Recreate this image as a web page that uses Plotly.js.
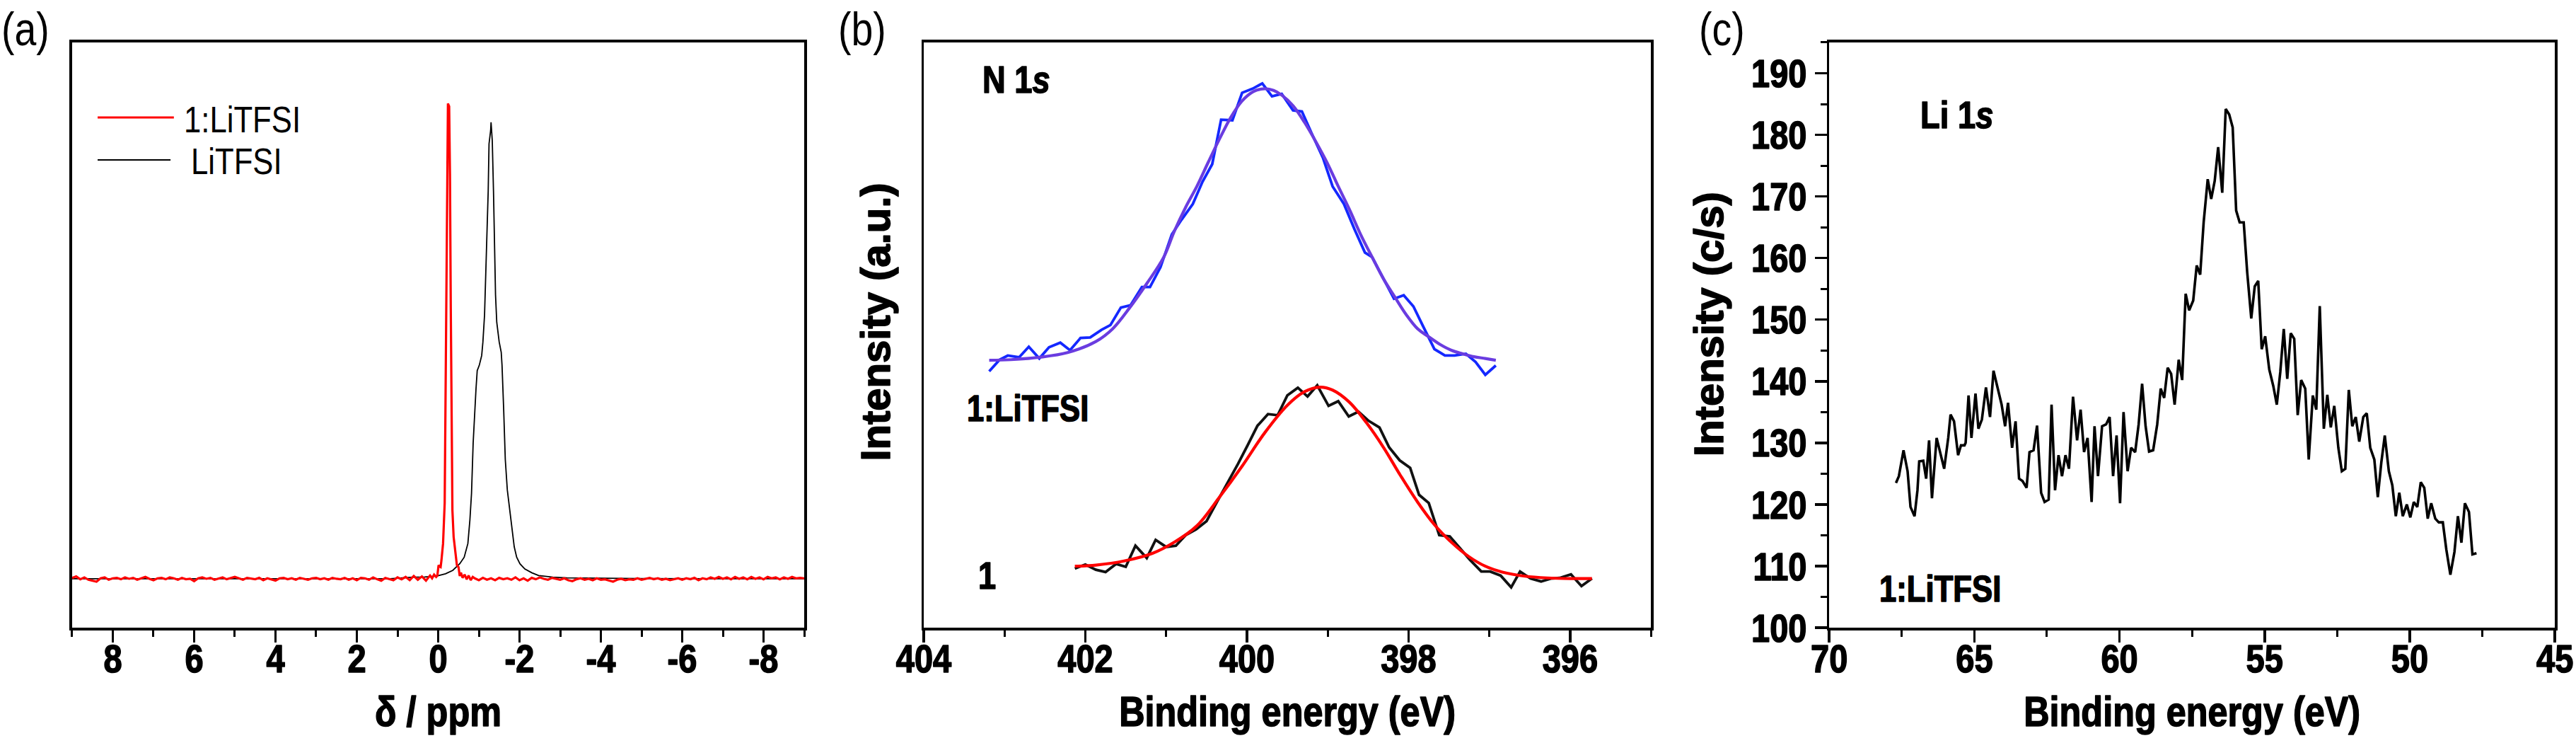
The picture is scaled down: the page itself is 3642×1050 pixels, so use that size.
<!DOCTYPE html>
<html>
<head>
<meta charset="utf-8">
<script src="https://cdn.plot.ly/plotly-3.0.1.min.js"></script>
<style>
  html, body { margin: 0; padding: 0; background: #fff; }
  #chart { width: 3642px; height: 1050px; }
</style>
</head>
<body>
<div id="chart"></div>
<script>
// ---------- (a) 7Li NMR spectra ----------
const nmrRedShift = [
  9.0, 8.9, 8.8, 8.7, 8.6, 8.5, 8.4, 8.3, 8.2, 8.1,
  8.0, 7.9, 7.8, 7.7, 7.6, 7.5, 7.4, 7.3, 7.2, 7.1,
  7.0, 6.9, 6.8, 6.7, 6.6, 6.5, 6.4, 6.3, 6.2, 6.1,
  6.0, 5.9, 5.8, 5.7, 5.6, 5.5, 5.4, 5.3, 5.2, 5.1,
  5.0, 4.9, 4.8, 4.7, 4.6, 4.5, 4.4, 4.3, 4.2, 4.1,
  4.0, 3.9, 3.8, 3.7, 3.6, 3.5, 3.4, 3.3, 3.2, 3.1,
  3.0, 2.9, 2.8, 2.7, 2.6, 2.5, 2.4, 2.3, 2.2, 2.1,
  2.0, 1.9, 1.8, 1.7, 1.6, 1.5, 1.4, 1.3, 1.2, 1.1,
  1.0, 0.9, 0.8, 0.7, 0.6, 0.5, 0.4, 0.3, 0.2, 0.15,
  0.1, 0.05, 0.02, -0.01, -0.04, -0.06, -0.08, -0.12, -0.16, -0.18,
  -0.21, -0.24, -0.27, -0.29, -0.31, -0.33, -0.35, -0.38, -0.42, -0.46,
  -0.50, -0.53, -0.56, -0.60, -0.65, -0.70, -0.75, -0.80, -0.85, -0.9,
  -1.0, -1.1, -1.2, -1.3, -1.4, -1.5, -1.6, -1.7, -1.8, -1.9,
  -2.0, -2.1, -2.2, -2.3, -2.4, -2.5, -2.6, -2.7, -2.8, -2.9,
  -3.0, -3.1, -3.2, -3.3, -3.4, -3.5, -3.6, -3.7, -3.8, -3.9,
  -4.0, -4.1, -4.2, -4.3, -4.4, -4.5, -4.6, -4.7, -4.8, -4.9,
  -5.0, -5.1, -5.2, -5.3, -5.4, -5.5, -5.6, -5.7, -5.8, -5.9,
  -6.0, -6.1, -6.2, -6.3, -6.4, -6.5, -6.6, -6.7, -6.8, -6.9,
  -7.0, -7.1, -7.2, -7.3, -7.4, -7.5, -7.6, -7.7, -7.8, -7.9,
  -8.0, -8.1, -8.2, -8.3, -8.4, -8.5, -8.6, -8.7, -8.8, -8.9,
  -9.0
];
const nmrRedIntensity = [
  0.2, 0.5, -0.1, 0.3, -0.2, -0.4, -0.6, 0.1, 0.3, -0.2,
  0.1, 0.2, -0.1, 0.3, 0.0, 0.2, -0.2, 0.1, 0.4, 0.0,
  -0.3, 0.1, 0.2, -0.1, 0.3, 0.1, -0.2, 0.2, -0.1, 0.0,
  -0.5, 0.1, 0.3, 0.0, 0.2, -0.2, 0.1, 0.3, -0.1, 0.2,
  0.4, 0.1, -0.2, 0.2, 0.0, -0.1, 0.2, -0.3, 0.1, -0.2,
  -0.4, 0.1, 0.2, -0.1, 0.1, -0.2, 0.2, 0.0, -0.2, 0.1,
  0.2, -0.1, 0.1, -0.2, 0.2, 0.0, -0.1, 0.2, -0.2, 0.1,
  -0.3, 0.2, 0.1, -0.2, 0.3, -0.1, -0.4, 0.2, 0.0, -0.3,
  0.3, -0.1, 0.4, -0.3, 0.6, -0.2, 0.5, -0.4, 0.7, 0.1,
  0.9, 0.4, 0.7, 2.9, 2.6, 2.5, 3.9, 7.5, 16.1, 36.1,
  64.6, 101.1, 100.5, 86.1, 57.5, 36.1, 14.6, 8.9, 6.1, 2.9,
  2.5, 0.6, 1.3, 0.2, 0.9, -0.1, 0.7, -0.3, 0.4, 0.1,
  -0.3, 0.2, -0.2, 0.1, -0.3, 0.2, -0.1, 0.1, -0.2, 0.3,
  -0.3, 0.1, -0.4, 0.2, -0.1, 0.3, 0.0, -0.2, 0.2, 0.0,
  -0.2, 0.1, -0.3, -0.5, -0.1, 0.1, -0.2, 0.0, -0.3, 0.1,
  -0.2, -0.1, -0.3, -0.6, -0.2, 0.0, -0.3, -0.1, -0.2, 0.1,
  -0.2, 0.0, 0.2, -0.1, 0.1, -0.2, 0.0, -0.3, -0.1, 0.1,
  -0.2, 0.1, -0.1, 0.2, -0.3, 0.1, -0.1, 0.3, 0.0, 0.4,
  0.0, 0.3, -0.1, 0.4, 0.0, 0.3, -0.1, 0.4, 0.0, 0.3,
  -0.1, 0.4, 0.1, 0.3, -0.1, 0.3, 0.0, 0.4, 0.1, 0.2,
  0.1
];
const nmrBlackShift = [
  9.0, 1.19, 0.62, 0.33, 0.04, -0.18, -0.36, -0.53, -0.64, -0.73,
  -0.78, -0.82, -0.86, -0.90, -0.93, -0.96, -1.01, -1.07, -1.10, -1.14,
  -1.17, -1.20, -1.23, -1.25, -1.29, -1.30, -1.33, -1.36, -1.39, -1.41,
  -1.44, -1.50, -1.55, -1.57, -1.61, -1.65, -1.70, -1.76, -1.81, -1.87,
  -1.93, -2.01, -2.13, -2.30, -2.47, -2.82, -3.16, -3.96, -5.0, -9.0
];
const nmrBlackIntensity = [
  0, 0, 0.36, 0.4, 0.57, 1.07, 1.8, 3.2, 4.6, 7.5,
  12.5, 18.2, 28.9, 36.1, 40.4, 44.3, 45.4, 47.5, 50.4, 56.1,
  64.6, 75.4, 82.5, 92.5, 95.4, 97.1, 93.2, 82.5, 68.2, 60.4,
  54.6, 50.4, 48.2, 45.4, 36.1, 25.4, 18.9, 14.6, 10.4, 6.8,
  4.6, 3.2, 2.1, 1.3, 0.7, 0.36, 0.2, 0.14, 0.05, 0
];
const nmrTickVals = [8, 6, 4, 2, 0, -2, -4, -6, -8];
const nmrTickText = ['8', '6', '4', '2', '0', '-2', '-4', '-6', '-8'];

// ---------- (b) N 1s XPS ----------
const n1sTopEnergy = [
  403.19, 403.06, 402.96, 402.82, 402.70, 402.57, 402.45, 402.31, 402.19, 402.06,
  401.94, 401.80, 401.69, 401.56, 401.44, 401.30, 401.20, 401.07, 400.93, 400.81,
  400.67, 400.55, 400.43, 400.32, 400.18, 400.06, 399.93, 399.81, 399.69, 399.57,
  399.43, 399.32, 399.20, 399.06, 398.94, 398.80, 398.67, 398.54, 398.45, 398.31,
  398.18, 398.06, 397.94, 397.82, 397.68, 397.55, 397.43, 397.29, 397.17, 397.05,
  396.92
];
const n1sTopRaw = [
  43.8, 45.8, 46.5, 46.2, 48.0, 46.0, 47.9, 48.7, 47.4, 49.5,
  49.6, 50.9, 51.7, 54.7, 55.1, 58.2, 58.2, 61.6, 67.2, 69.7,
  72.4, 76.2, 79.2, 86.8, 86.7, 91.4, 92.1, 93.0, 90.8, 91.2,
  88.4, 88.2, 84.5, 80.3, 75.4, 72.4, 68.1, 64.1, 63.3, 59.6,
  56.2, 56.8, 54.9, 51.5, 47.6, 46.5, 46.5, 46.8, 45.4, 43.2,
  44.8
];
const n1sTopFitEnergy = [
  403.19, 402.92, 402.57, 402.22, 401.87, 401.66, 401.45, 401.24, 401.03, 400.90,
  400.76, 400.62, 400.48, 400.34, 400.20, 400.06, 399.92, 399.78, 399.67, 399.57,
  399.43, 399.29, 399.15, 399.01, 398.87, 398.73, 398.59, 398.45, 398.31, 398.17,
  398.03, 397.89, 397.75, 397.61, 397.47, 397.33, 397.19, 397.05, 396.92
];
const n1sTopFit = [
  45.7, 45.8, 46.2, 47.0, 48.9, 51.1, 54.7, 58.8, 63.3, 67.7,
  71.8, 75.4, 79.5, 83.5, 87.2, 90.0, 91.6, 92.1, 91.8, 91.0,
  89.2, 86.4, 83.1, 79.5, 75.4, 71.4, 67.1, 63.3, 59.6, 56.5,
  53.5, 51.1, 49.7, 48.4, 47.4, 46.8, 46.3, 46.0, 45.7
];
const n1sBottomEnergy = [
  402.13, 402.00, 401.87, 401.75, 401.62, 401.50, 401.38, 401.24, 401.13, 401.00,
  400.88, 400.76, 400.63, 400.50, 400.37, 400.24, 400.11, 399.99, 399.87, 399.74,
  399.62, 399.50, 399.37, 399.25, 399.13, 398.99, 398.87, 398.74, 398.62, 398.50,
  398.36, 398.24, 398.11, 397.98, 397.87, 397.75, 397.62, 397.49, 397.36, 397.24,
  397.10, 396.99, 396.86, 396.73, 396.62, 396.49, 396.36, 396.24, 396.13, 395.99,
  395.86, 395.73
];
const n1sBottomRaw = [
  10.1, 10.8, 9.9, 9.5, 10.9, 10.4, 14.0, 11.9, 15.0, 13.8,
  14.0, 15.8, 16.8, 18.2, 21.5, 24.7, 28.0, 31.2, 34.5, 36.5,
  36.3, 39.7, 41.0, 39.5, 41.4, 37.9, 38.7, 36.1, 36.9, 35.4,
  34.2, 30.8, 28.6, 27.3, 22.7, 21.3, 15.8, 15.6, 13.5, 11.6,
  9.6, 9.6, 8.9, 6.9, 9.6, 8.4, 7.9, 8.4, 8.5, 9.1,
  7.1, 8.4
];
const n1sBottomFitEnergy = [
  402.13, 401.87, 401.52, 401.17, 400.90, 400.62, 400.34, 400.06, 399.78, 399.50,
  399.29, 399.10, 398.94, 398.73, 398.52, 398.31, 398.10, 397.89, 397.68, 397.47,
  397.26, 397.05, 396.84, 396.56, 396.28, 396.00, 395.73
];
const n1sBottomFit = [
  10.5, 10.7, 11.4, 12.7, 14.6, 17.4, 22.3, 27.6, 33.3, 38.0,
  40.3, 41.1, 40.6, 38.5, 35.0, 30.8, 26.0, 21.5, 17.6, 14.6,
  12.2, 10.5, 9.5, 8.8, 8.5, 8.4, 8.4
];
const n1sTickVals = [404, 402, 400, 398, 396];
const n1sTickText = ['404', '402', '400', '398', '396'];

// ---------- (c) Li 1s XPS ----------
const li1sEnergy = [
  67.70, 67.60, 67.44, 67.30, 67.20, 67.06, 66.96, 66.90, 66.76, 66.66,
  66.56, 66.46, 66.30, 66.16, 66.04, 65.90, 65.82, 65.70, 65.56, 65.46,
  65.34, 65.30, 65.20, 65.10, 64.96, 64.86, 64.74, 64.60, 64.46, 64.34,
  64.22, 64.06, 63.94, 63.84, 63.70, 63.58, 63.46, 63.34, 63.20, 63.10,
  62.96, 62.84, 62.70, 62.58, 62.44, 62.34, 62.22, 62.10, 61.98, 61.86,
  61.74, 61.60, 61.46, 61.34, 61.22, 61.10, 60.96, 60.86, 60.74, 60.60,
  60.46, 60.34, 60.22, 60.10, 59.98, 59.86, 59.72, 59.60, 59.46, 59.34,
  59.22, 59.10, 58.98, 58.84, 58.70, 58.58, 58.46, 58.34, 58.22, 58.10,
  57.96, 57.84, 57.72, 57.60, 57.46, 57.34, 57.22, 57.10, 56.96, 56.84,
  56.72, 56.60, 56.46, 56.34, 56.22, 56.10, 55.98, 55.86, 55.72, 55.60,
  55.46, 55.34, 55.22, 55.10, 54.98, 54.84, 54.70, 54.58, 54.46, 54.34,
  54.22, 54.10, 53.98, 53.86, 53.74, 53.60, 53.48, 53.34, 53.22, 53.10,
  52.96, 52.84, 52.72, 52.60, 52.46, 52.34, 52.22, 52.10, 51.98, 51.86,
  51.74, 51.60, 51.48, 51.36, 51.22, 51.10, 50.98, 50.86, 50.72, 50.60,
  50.48, 50.36, 50.24, 50.10, 49.98, 49.86, 49.74, 49.62, 49.50, 49.38,
  49.26, 49.12, 49.00, 48.86, 48.74, 48.60, 48.46, 48.34, 48.22, 48.10,
  47.96, 47.84, 47.70
];
const li1sCounts = [
  123.5, 124.6, 128.8, 125.4, 119.6, 118.1, 122.3, 127.0, 127.1, 124.2,
  130.4, 121.0, 130.8, 128.0, 125.8, 130.8, 134.6, 133.5, 128.0, 129.6,
  129.6, 130.0, 137.7, 130.8, 138.0, 132.3, 133.8, 139.0, 134.2, 141.7,
  139.2, 136.2, 132.7, 136.5, 129.2, 133.5, 124.2, 123.8, 122.7, 128.5,
  128.8, 132.8, 121.9, 120.4, 120.8, 136.2, 122.3, 128.0, 124.6, 128.0,
  125.8, 137.5, 130.4, 135.4, 128.5, 130.8, 120.4, 132.7, 124.6, 132.7,
  133.0, 134.2, 124.6, 131.2, 120.2, 135.0, 125.4, 129.2, 128.5, 133.0,
  139.6, 132.7, 128.6, 128.8, 133.0, 138.8, 137.3, 142.2, 141.2, 136.2,
  143.5, 140.2, 154.2, 151.5, 153.1, 158.8, 157.3, 165.8, 172.8, 169.6,
  172.5, 178.0, 170.6, 184.2, 183.3, 181.2, 167.7, 165.8, 165.8, 157.7,
  150.2, 155.4, 156.3, 145.2, 147.3, 141.9, 139.2, 136.2, 141.5, 148.5,
  140.4, 147.8, 146.9, 134.5, 140.2, 138.8, 127.3, 137.7, 135.4, 152.2,
  132.3, 137.8, 132.5, 136.0, 129.2, 125.4, 125.8, 138.6, 132.7, 134.2,
  130.2, 134.2, 134.8, 129.2, 127.3, 121.2, 126.8, 131.2, 125.4, 123.1,
  118.1, 121.9, 118.1, 120.0, 117.9, 120.4, 119.6, 123.6, 122.7, 117.7,
  120.2, 117.7, 117.1, 117.1, 112.7, 108.6, 112.3, 118.1, 113.8, 120.2,
  118.8, 111.9, 112.1
];
const li1sXTickVals = [70, 65, 60, 55, 50, 45];
const li1sXTickText = ['70', '65', '60', '55', '50', '45'];
const li1sYTickVals = [100, 110, 120, 130, 140, 150, 160, 170, 180, 190];
const li1sYTickText = ['100', '110', '120', '130', '140', '150', '160', '170', '180', '190'];

// ---------- styling ----------
const FONT = 'Liberation Sans, Arial, Helvetica, sans-serif';
const CONDENSE = 0.84;          // horizontal squeeze applied to upright labels after drawing
const XTICK_CENTER_Y = 931;     // vertical centre of the bottom tick labels (px)
const XTITLE_CENTER_Y = 1005;   // vertical centre of the bottom axis titles (px)
const YTITLE_B = [1238, 455];   // centre of the rotated title of panel (b)
const YTITLE_C = [2416, 458];   // centre of the rotated title of panel (c)
const yDomain = [0.1552, 0.9429];
const tickFont = { family: FONT, size: 56, color: '#000', weight: 700 };
const titleFont = { family: FONT, size: 60, color: '#000', weight: 700 };
const yTitleFont = { family: FONT, size: 58, color: '#000', weight: 700 };

const bold = arr => arr.map(t => '<b>' + t + '</b>');

function frameAxis(extra) {
  return Object.assign({
    showline: true, linecolor: '#000', linewidth: 3.5, mirror: true,
    showgrid: false, zeroline: false, fixedrange: true
  }, extra);
}
function tickAxis(extra) {
  return frameAxis(Object.assign({
    ticks: 'outside', ticklen: 17, tickwidth: 3.5, tickcolor: '#000',
    tickfont: tickFont, tickmode: 'array', ticklabeloverflow: 'allow'
  }, extra));
}
const minorTicks = (dtick, tick0) =>
  ({ dtick: dtick, tick0: tick0, ticks: 'outside', ticklen: 9, tickwidth: 3, tickcolor: '#000' });

const traces = [
  { x: nmrBlackShift, y: nmrBlackIntensity, xaxis: 'x', yaxis: 'y', mode: 'lines',
    line: { color: '#000', width: 1.8 }, name: 'LiTFSI' },
  { x: nmrRedShift, y: nmrRedIntensity, xaxis: 'x', yaxis: 'y', mode: 'lines',
    line: { color: '#ff0000', width: 3.2 }, name: '1:LiTFSI' },

  { x: n1sTopEnergy, y: n1sTopRaw, xaxis: 'x2', yaxis: 'y2', mode: 'lines',
    line: { color: '#1428ff', width: 3.8 } },
  { x: n1sTopFitEnergy, y: n1sTopFit, xaxis: 'x2', yaxis: 'y2', mode: 'lines',
    line: { color: '#6a3ce0', width: 4.2, shape: 'spline', smoothing: 1 } },
  { x: n1sBottomEnergy, y: n1sBottomRaw, xaxis: 'x2', yaxis: 'y2', mode: 'lines',
    line: { color: '#111', width: 3.8 } },
  { x: n1sBottomFitEnergy, y: n1sBottomFit, xaxis: 'x2', yaxis: 'y2', mode: 'lines',
    line: { color: '#ff0000', width: 4.2, shape: 'spline', smoothing: 1 } },

  { x: li1sEnergy, y: li1sCounts, xaxis: 'x3', yaxis: 'y3', mode: 'lines',
    line: { color: '#000', width: 3.6 } }
];

const layout = {
  width: 3642, height: 1050,
  margin: { l: 0, r: 0, t: 0, b: 0 },
  paper_bgcolor: '#fff', plot_bgcolor: '#fff',
  showlegend: false,
  xaxis: tickAxis({
    domain: [0.0280, 0.3122], anchor: 'y', range: [9, -9],
    tickvals: nmrTickVals, ticktext: bold(nmrTickText),
    minor: minorTicks(1, 1),
    title: { text: 'δ / ppm', font: titleFont, standoff: 20 }
  }),
  yaxis: frameAxis({ domain: yDomain, anchor: 'x', range: [-10.4, 114.1], showticklabels: false, ticks: '' }),

  xaxis2: tickAxis({
    domain: [0.3586, 0.6409], anchor: 'y2', range: [404, 395],
    tickvals: n1sTickVals, ticktext: bold(n1sTickText),
    minor: minorTicks(1, 395),
    title: { text: 'Binding energy (eV)', font: titleFont, standoff: 20 }
  }),
  yaxis2: frameAxis({ domain: yDomain, anchor: 'x2', range: [0, 100], showticklabels: false, ticks: '',
    title: { text: 'Intensity (a.u.)', font: yTitleFont, standoff: 36 } }),

  xaxis3: tickAxis({
    domain: [0.7101, 0.9918], anchor: 'y3', range: [70, 45],
    tickvals: li1sXTickVals, ticktext: bold(li1sXTickText),
    minor: minorTicks(2.5, 45),
    title: { text: 'Binding energy (eV)', font: titleFont, standoff: 20 }
  }),
  yaxis3: tickAxis({
    domain: yDomain, anchor: 'x3', range: [100, 195],
    tickvals: li1sYTickVals, ticktext: bold(li1sYTickText),
    minor: minorTicks(5, 100),
    title: { text: 'Intensity (c/s)', font: yTitleFont, standoff: 25 }
  }),

  shapes: [
    { type: 'line', xref: 'paper', yref: 'paper', x0: 0.0379, x1: 0.0675, y0: 0.8419, y1: 0.8419,
      line: { color: '#ff0000', width: 3 } },
    { type: 'line', xref: 'paper', yref: 'paper', x0: 0.0379, x1: 0.0662, y0: 0.7848, y1: 0.7848,
      line: { color: '#000', width: 2 } }
  ],
  annotations: [
    { text: '(a)', xref: 'paper', yref: 'paper', x: 0.0, y: 0.961, xanchor: 'left', yanchor: 'middle',
      showarrow: false, font: { family: FONT, size: 66, color: '#000' } },
    { text: '(b)', xref: 'paper', yref: 'paper', x: 0.3248, y: 0.961, xanchor: 'left', yanchor: 'middle',
      showarrow: false, font: { family: FONT, size: 66, color: '#000' } },
    { text: '(c)', xref: 'paper', yref: 'paper', x: 0.6590, y: 0.961, xanchor: 'left', yanchor: 'middle',
      showarrow: false, font: { family: FONT, size: 66, color: '#000' } },

    { text: '1:LiTFSI', xref: 'paper', yref: 'paper', x: 0.0708, y: 0.8395, xanchor: 'left', yanchor: 'middle',
      showarrow: false, font: { family: FONT, size: 52, color: '#000' } },
    { text: 'LiTFSI', xref: 'paper', yref: 'paper', x: 0.0736, y: 0.7833, xanchor: 'left', yanchor: 'middle',
      showarrow: false, font: { family: FONT, size: 52, color: '#000' } },

    { text: '<b>N 1<i>s</i></b>', xref: 'paper', yref: 'paper', x: 0.3808, y: 0.8933, xanchor: 'left', yanchor: 'middle',
      showarrow: false, font: { family: FONT, size: 54, color: '#000' } },
    { text: '<b>1:LiTFSI</b>', xref: 'paper', yref: 'paper', x: 0.3748, y: 0.4505, xanchor: 'left', yanchor: 'middle',
      showarrow: false, font: { family: FONT, size: 52, color: '#000' } },
    { text: '<b>1</b>', xref: 'paper', yref: 'paper', x: 0.3792, y: 0.2257, xanchor: 'left', yanchor: 'middle',
      showarrow: false, font: { family: FONT, size: 54, color: '#000' } },

    { text: '<b>Li 1<i>s</i></b>', xref: 'paper', yref: 'paper', x: 0.7449, y: 0.8457, xanchor: 'left', yanchor: 'middle',
      showarrow: false, font: { family: FONT, size: 54, color: '#000' } },
    { text: '<b>1:LiTFSI</b>', xref: 'paper', yref: 'paper', x: 0.7290, y: 0.2076, xanchor: 'left', yanchor: 'middle',
      showarrow: false, font: { family: FONT, size: 52, color: '#000' } }
  ]
};

// Narrow the upright labels horizontally about their anchor points so the
// lettering is tall and compact; bold lettering gets a thin outline.
function restyleLabels(gd, factor) {
  gd.querySelectorAll('svg text').forEach(el => {
    const isBold = el.querySelector('tspan[style*="bold"]') ||
      parseInt(getComputedStyle(el).fontWeight, 10) >= 600;
    if (isBold) {
      el.style.stroke = '#000';
      el.style.strokeWidth = '1.6px';
      el.style.strokeLinejoin = 'round';
    }
    const tr = el.getAttribute('transform') || '';
    if (/rotate\(/.test(tr)) return;
    const bb = el.getBBox();
    if (!bb.width) return;
    const anchor = el.getAttribute('text-anchor') || 'start';
    let ax;
    if (el.closest('.annotation')) ax = bb.x;
    else if (anchor === 'middle') ax = bb.x + bb.width / 2;
    else if (anchor === 'end') ax = bb.x + bb.width;
    else ax = bb.x;
    el.setAttribute('transform',
      (tr + ' translate(' + ax + ',0) scale(' + factor + ',1) translate(' + (-ax) + ',0)').trim());
  });
}

// Settle the bottom tick labels, the bottom axis titles and the rotated
// titles at fixed centres measured on the page.
function placeLabels(gd) {
  gd.querySelectorAll('svg text').forEach(el => {
    const r = el.getBoundingClientRect();
    if (!r.width || !r.height) return;
    const cx = r.left + r.width / 2;
    const cy = r.top + r.height / 2;
    const tr = el.getAttribute('transform') || '';
    if (/rotate\(/.test(tr)) {
      const t = cx < 1800 ? YTITLE_B : YTITLE_C;
      el.setAttribute('transform', 'translate(' + (t[0] - cx) + ',' + (t[1] - cy) + ') ' + tr);
    } else if (cy > 900 && cy < 975) {
      el.setAttribute('transform', (tr + ' translate(0,' + (XTICK_CENTER_Y - cy) + ')').trim());
    } else if (cy >= 975) {
      el.setAttribute('transform', (tr + ' translate(0,' + (XTITLE_CENTER_Y - cy) + ')').trim());
    }
  });
}

Plotly.newPlot('chart', traces, layout, { staticPlot: true, displayModeBar: false })
  .then(gd => { restyleLabels(gd, CONDENSE); placeLabels(gd); });
</script>
</body>
</html>
